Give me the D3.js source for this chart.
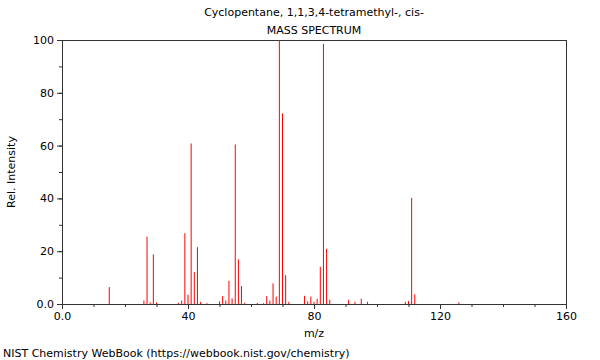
<!DOCTYPE html>
<html>
<head>
<meta charset="utf-8">
<script src="https://cdn.jsdelivr.net/npm/d3@7"></script>
<style>
  body { margin: 0; background: #fff; }
  svg { display: block; font-family: "DejaVu Sans", sans-serif; }
</style>
</head>
<body>
<svg id="chart" width="600" height="360"></svg>
<script>
const title = "Cyclopentane, 1,1,3,4-tetramethyl-, cis-";
const subtitle = "MASS SPECTRUM";
const xLabel = "m/z";
const yLabel = "Rel. Intensity";
const footer = "NIST Chemistry WebBook (https://webbook.nist.gov/chemistry)";

const mz = [15, 26, 27, 28, 29, 30, 37, 38, 39, 40, 41, 42, 43, 44, 46,
            50, 51, 52, 53, 54, 55, 56, 57, 58, 62, 64, 65, 66, 67, 68, 69, 70, 71, 72,
            77, 78, 79, 80, 81, 82, 83, 84, 85, 91, 93, 95, 97, 109, 110, 111, 112, 126];
const intensity = [6.4, 1.3, 25.5, 0.6, 18.8, 0.6, 0.4, 1.3, 26.8, 3.5, 60.8, 12.1, 21.5, 0.8, 0.3,
            1.0, 3.0, 1.3, 8.8, 2.1, 60.4, 16.9, 6.8, 0.5, 0.4, 0.3, 3.0, 1.3, 7.8, 2.8, 100, 72.2, 10.9, 0.8,
            3.1, 1.0, 2.8, 0.8, 2.0, 14.1, 98.5, 20.9, 1.6, 1.6, 0.8, 2.0, 0.8, 0.8, 1.1, 40.2, 3.7, 0.6];

const xTicks = [0, 40, 80, 120, 160];
const xTickLabels = ["0.0", "40", "80", "120", "160"];
const yTicks = [0, 20, 40, 60, 80, 100];
const yTickLabels = ["0.0", "20", "40", "60", "80", "100"];

(function () {
const svg = d3.select("#chart");
const mLeft = 62, mRight = 566, mTop = 40, mBottom = 304;

const x = d3.scaleLinear().domain([0, 160]).range([mLeft, mRight]);
const y = d3.scaleLinear().domain([0, 100]).range([mBottom, mTop]);

// frame
svg.append("rect")
  .attr("x", mLeft).attr("y", mTop)
  .attr("width", mRight - mLeft).attr("height", mBottom - mTop)
  .attr("fill", "none").attr("stroke", "#333").attr("stroke-width", 1)
  .attr("shape-rendering", "crispEdges");

// bars
svg.append("g").selectAll("line")
  .data(mz.map((m, i) => ({m, v: intensity[i]})))
  .join("line")
  .attr("x1", d => x(d.m)).attr("x2", d => x(d.m))
  .attr("y1", y(0)).attr("y2", d => y(d.v))
  .attr("stroke", "#ff0000").attr("stroke-width", 1);

// x axis
const xAxis = d3.axisBottom(x)
  .tickValues(xTicks)
  .tickFormat((d, i) => xTickLabels[i])
  .tickSize(5).tickPadding(3);
svg.append("g").attr("transform", `translate(0,${mBottom})`).call(xAxis);
const xMinor = d3.axisBottom(x).tickValues(d3.range(0, 161, 10)).tickFormat("").tickSize(3);
svg.append("g").attr("transform", `translate(0,${mBottom})`).call(xMinor);

// y axis
const yAxis = d3.axisLeft(y)
  .tickValues(yTicks)
  .tickFormat((d, i) => yTickLabels[i])
  .tickSize(5).tickPadding(3);
svg.append("g").attr("transform", `translate(${mLeft},0)`).call(yAxis);
const yMinor = d3.axisLeft(y).tickValues(d3.range(0, 101, 10)).tickFormat("").tickSize(3);
svg.append("g").attr("transform", `translate(${mLeft},0)`).call(yMinor);

svg.selectAll(".domain").remove();
svg.selectAll(".tick line").attr("stroke", "#333");
svg.selectAll(".tick text").attr("font-size", 11).attr("fill", "#000")
  .attr("font-family", "DejaVu Sans, sans-serif");

// titles
svg.append("text").attr("x", 314).attr("y", 16).attr("text-anchor", "middle")
  .attr("font-size", 11).text(title);
svg.append("text").attr("x", 314).attr("y", 34).attr("text-anchor", "middle")
  .attr("font-size", 11).text(subtitle);
svg.append("text").attr("x", 314).attr("y", 337).attr("text-anchor", "middle")
  .attr("font-size", 11).text(xLabel);
svg.append("text").attr("transform", `translate(15,${(mTop + mBottom) / 2}) rotate(-90)`)
  .attr("text-anchor", "middle").attr("font-size", 11).text(yLabel);
svg.append("text").attr("x", 3).attr("y", 357).attr("font-size", 11).text(footer);
})();
</script>
</body>
</html>
